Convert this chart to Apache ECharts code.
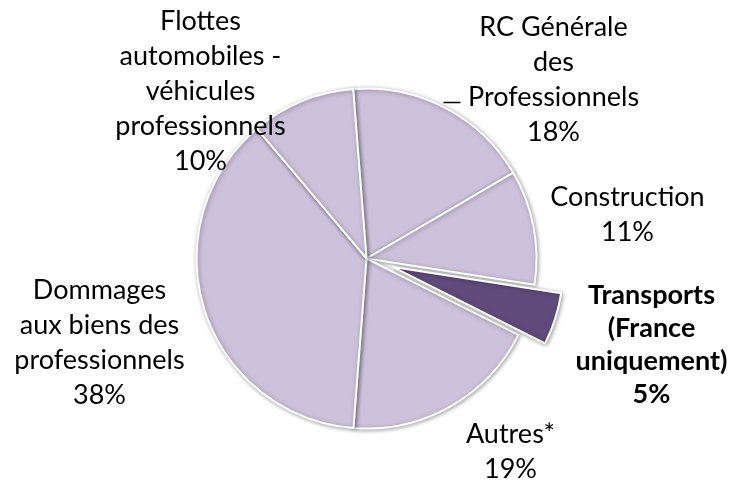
<!DOCTYPE html>
<html>
<head>
    <meta charset="utf-8">
    <title>Répartition</title>
    <script src="https://cdn.jsdelivr.net/npm/echarts@6/dist/echarts.min.js"></script>
    <style>
        html, body { margin: 0; padding: 0; background: #fff; }
        #chart { width: 732px; height: 482px; }
    </style>
</head>
<body>
    <div id="chart"></div>
    <script type="text/javascript">
        // parts, clockwise from the top
        var categories = [
            'RC Générale\ndes\nProfessionnels',
            'Construction',
            'Transports\n(France\nuniquement)',
            'Autres*',
            'Dommages\naux biens des\nprofessionnels',
            'Flottes\nautomobiles -\nvéhicules\nprofessionnels'
        ];
        var values = [18, 11, 5, 19, 38, 10];
        var explodedIndex = 2;

        var cx = 366.5, cy = 258.5;
        var startAngle = 94.5;
        var explodeDist = 28;
        // label block centre, relative to the pie centre
        var labelOffsets = [
            [187, -179],
            [261, -44],
            [285, 86],
            [144, 193],
            [-267, 84],
            [-166, -167]
        ];

        var chart = echarts.init(document.getElementById('chart'));

        // direction of the exploded slice
        var total = values.reduce(function (a, b) { return a + b; }, 0);
        var before = 0;
        for (var k = 0; k < explodedIndex; k++) before += values[k];
        var midAngle = (startAngle - (before + values[explodedIndex] / 2) / total * 360) * Math.PI / 180;
        var ex = cx + explodeDist * Math.cos(midAngle);
        var ey = cy - explodeDist * Math.sin(midAngle);

        var hidden = {
            color: 'rgba(0,0,0,0)',
            borderWidth: 0,
            shadowBlur: 0,
            shadowOffsetX: 0,
            shadowOffsetY: 0,
            shadowColor: 'rgba(0,0,0,0)'
        };

        var mainData = values.map(function (v, i) {
            var item = {
                value: v,
                name: categories[i],
                itemStyle: { color: '#CCC1DA' }
            };
            if (i == explodedIndex) {
                item.itemStyle = hidden;
                item.label = { fontWeight: 'bold', lineHeight: 33 };
            }
            if (i == 0) {
                item.labelLine = { show: true };
            }
            return item;
        });

        var explodedData = values.map(function (v, i) {
            return {
                value: v,
                name: categories[i],
                itemStyle: i == explodedIndex ? { color: '#604A7B' } : hidden
            };
        });

        var sliceStyle = {
            borderColor: '#fff',
            borderWidth: 2,
            shadowBlur: 4,
            shadowOffsetX: 1,
            shadowOffsetY: 1,
            shadowColor: 'rgba(0,0,0,0.35)'
        };

        var option = {
            backgroundColor: '#fff',
            animation: false,
            series: [
                {
                    type: 'pie',
                    center: [cx, cy],
                    radius: 170,
                    startAngle: startAngle,
                    clockwise: true,
                    silent: true,
                    avoidLabelOverlap: false,
                    itemStyle: sliceStyle,
                    emphasis: { disabled: true },
                    label: {
                        show: true,
                        position: 'outside',
                        formatter: '{b}\n{c}%',
                        fontFamily: 'Lato',
                        fontSize: 27,
                        lineHeight: 35,
                        color: '#000',
                        align: 'center',
                        overflow: 'none'
                    },
                    labelLine: {
                        show: false,
                        lineStyle: { color: '#000', width: 1.5 }
                    },
                    labelLayout: function (params) {
                        var o = labelOffsets[params.dataIndex];
                        var res = {
                            x: cx + o[0],
                            y: cy + o[1],
                            align: 'center',
                            verticalAlign: 'middle'
                        };
                        if (params.dataIndex == 0) {
                            res.labelLinePoints = [
                                [cx + 77, cy - 156],
                                [cx + 85, cy - 156],
                                [cx + 94, cy - 156]
                            ];
                        }
                        return res;
                    },
                    data: mainData
                },
                {
                    type: 'pie',
                    center: [ex, ey],
                    radius: 170,
                    startAngle: startAngle,
                    clockwise: true,
                    silent: true,
                    itemStyle: sliceStyle,
                    emphasis: { disabled: true },
                    label: { show: false },
                    labelLine: { show: false },
                    data: explodedData
                }
            ]
        };

        chart.setOption(option);
    </script>
</body>
</html>
